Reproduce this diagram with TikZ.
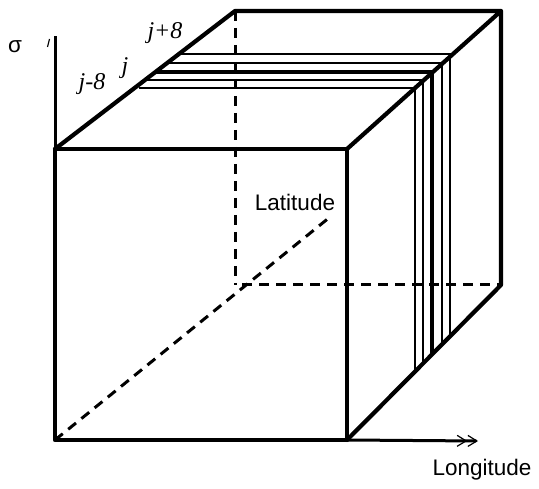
\documentclass[tikz,border=0pt]{standalone}
\usepackage{fontspec}
\setmainfont{Liberation Sans}
\newfontfamily\idxfont{Liberation Serif}
\usetikzlibrary{arrows.meta}
\tikzset{
  edge/.style     = {line width=4.2pt, line cap=round, line join=round},
  hidden/.style   = {line width=3pt, dash pattern=on 10pt off 7pt},
  strip/.style    = {line width=2.4pt},
  stripmid/.style = {line width=3.8pt},
  axis/.style     = {line width=3pt},
  lbl/.style      = {font=\fontsize{22.5}{26}\selectfont, inner sep=0pt},
  idx/.style      = {font=\fontsize{24}{28}\selectfont\idxfont\itshape, inner sep=0pt},
}

\begin{document}
\begin{tikzpicture}[x=1pt, y=-1pt]
\useasboundingbox (0,0) rectangle (539,489);

% ---- cube corners ----
\coordinate (ftl) at (55,149);
\coordinate (ftr) at (347,149);
\coordinate (fbl) at (55,440);
\coordinate (fbr) at (347,440);
\coordinate (btl) at (235,11);
\coordinate (btr) at (501,11);
\coordinate (bbr) at (501,285);
\coordinate (bbl) at (235,285);
\coordinate (latend) at (330,217);
\coordinate (sigtop) at (55,36);
\coordinate (lonend) at (478,441);

% ---- hidden edges and latitude axis ----
\draw[hidden] (btl) -- (bbl);
\draw[hidden] (bbl) ++(7,0) -- (bbr);
\draw[hidden] (fbl) -- (latend);

% ---- strips j-8 .. j+8 ----
\foreach \y/\xs/\xc/\st in {54/179/450/strip, 63/167/442/strip, 72/155/432/stripmid,
                            80/145/423/strip, 88/139/415/strip}
  \draw[\st] (\xs,\y) -- (\xc,\y) -- (\xc,{787-\xc});

% ---- visible edges ----
\draw[edge] (ftl) rectangle (fbr);
\draw[edge] (ftl) -- (btl) -- (btr) -- (ftr);
\draw[edge] (btr) -- (bbr) -- (fbr);

% ---- axes ----
\draw[axis] (ftl) -- (sigtop);
\draw[line width=1.2pt] (47.5,47) -- (49.5,39);
\draw[axis, -{Straight Barb[line width=1.2pt,length=9pt,width=11pt]Straight Barb[line width=1.2pt,length=9pt,width=11pt]}] (fbr) -- (lonend);

% ---- labels ----
\node[lbl] (sig) at (15,47) {σ};
\node[lbl] (lat) at (295,202) {Latitude};
\node[lbl] (lon) at (482,470) {Longitude};
\node[idx] (jp) at (165,33) {j+8};
\node[idx] (j0) at (125,68) {j};
\node[idx] (jm) at (92,84) {j-8};

\end{tikzpicture}
\end{document}
